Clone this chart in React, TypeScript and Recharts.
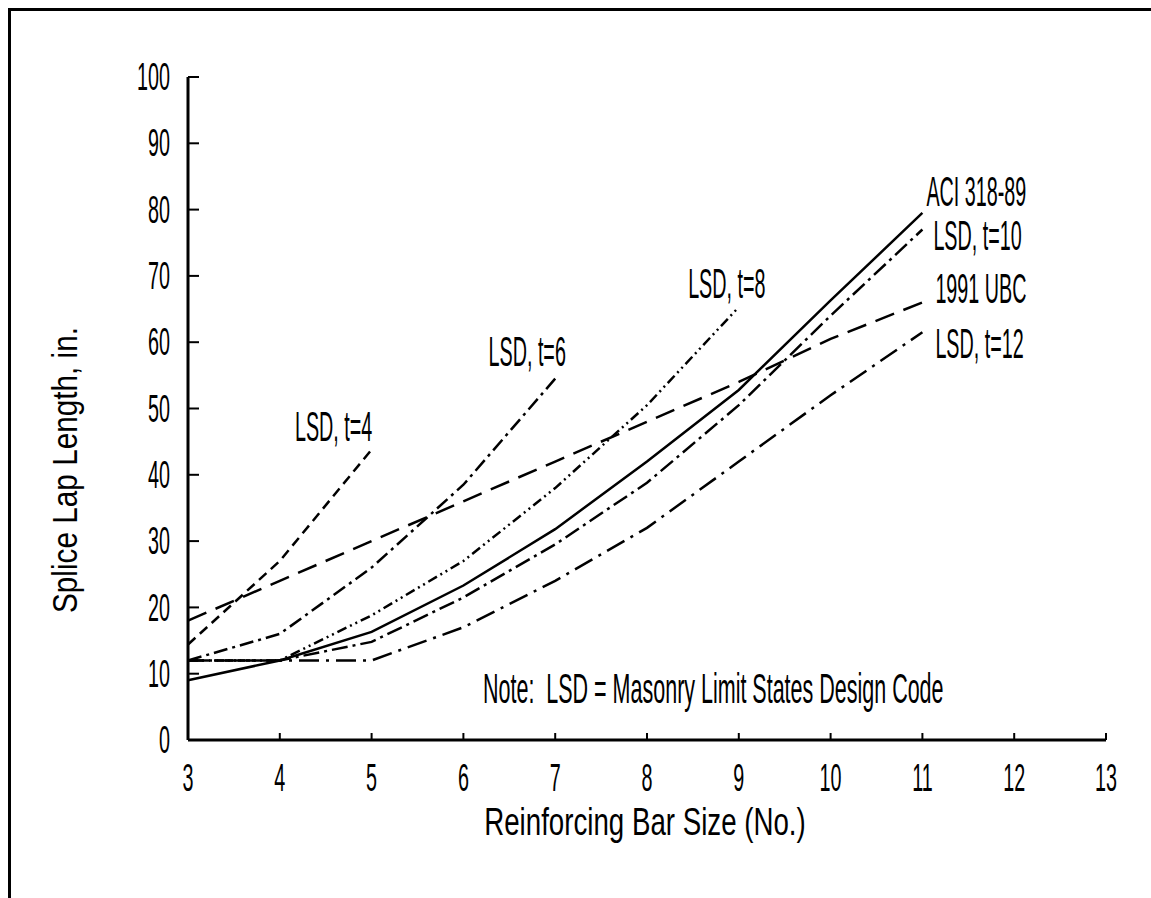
import React from "react";
import { LineChart, Line, XAxis, YAxis } from "recharts";

// bar sizes (No.) and splice lap lengths (in.)
const SIZES = [3, 4, 5, 6, 7, 8, 9, 10, 11];
const ACI_318_89 = [9, 12, 16.3, 23.3, 31.8, 42, 52.8, 66.3, 79.5];
const UBC_1991 = [18, 24, 30, 36, 42, 48, 54, 60.5, 66];
const LSD_T4 = [14.4, 27, 43.8];
const LSD_T6 = [12, 16, 26, 38.5, 54.5];
const LSD_T8 = [12, 12, 18.8, 27, 38, 50.5, 65.3];
const LSD_T10 = [12, 12, 14.8, 21.5, 29.5, 38.8, 50.5, 64, 77];
const LSD_T12 = [12, 12, 12, 17, 24, 32, 42, 52, 61.5];

const X_TICKS = [3, 4, 5, 6, 7, 8, 9, 10, 11, 12, 13];
const Y_TICKS = [0, 10, 20, 30, 40, 50, 60, 70, 80, 90, 100];

const data = SIZES.map((s, i) => ({
  size: s,
  aci: ACI_318_89[i],
  ubc: UBC_1991[i],
  t4: LSD_T4[i] ?? null,
  t6: LSD_T6[i] ?? null,
  t8: LSD_T8[i] ?? null,
  t10: LSD_T10[i] ?? null,
  t12: LSD_T12[i] ?? null,
}));

const FONT = "'Liberation Sans', Arial, sans-serif";

// condensed text: the scanned figure uses a narrow Helvetica
function CText({ x, y, text, size, sx, anchor = "middle", rotate = 0 }: any) {
  return (
    <g transform={`translate(${x},${y}) rotate(${rotate})`}>
      <text
        transform={`scale(${sx},1)`}
        textAnchor={anchor}
        dominantBaseline="central"
        fontSize={size}
        fontFamily={FONT}
        fill="#000"
        style={{ whiteSpace: "pre" }}
      >
        {text}
      </text>
    </g>
  );
}

const Y_MARGIN = 18;
const X_MARGIN = 38;

function YTick(props: any) {
  const { x, y, payload } = props;
  const ax = x + Y_MARGIN;
  return (
    <g>
      <line x1={ax} x2={ax + 11} y1={y} y2={y} stroke="#000" strokeWidth={2} />
      <CText x={x} y={y} text={String(payload.value)} size={38} sx={0.52} anchor="end" />
    </g>
  );
}

function XTick(props: any) {
  const { x, y, payload } = props;
  const ay = y - X_MARGIN;
  return (
    <g>
      <line x1={x} x2={x} y1={ay} y2={ay - 7} stroke="#000" strokeWidth={2} />
      <CText x={x} y={y} text={String(payload.value)} size={38} sx={0.52} />
    </g>
  );
}

// label drawn beside the last point of a series
const endLabel = (text: string, dx: number, dy: number, anchor: string, n: number) =>
  (p: any) =>
    p.index === n - 1 ? (
      <CText key={text} x={p.x + dx} y={p.y + dy} text={text} size={42} sx={0.47} anchor={anchor} />
    ) : null;

export default function App() {
  return (
    <div style={{ position: "absolute", left: 0, top: 0, width: 1151, height: 898, background: "#fff" }}>
      <div
        style={{
          position: "absolute",
          left: 8,
          top: 8,
          width: 1143,
          height: 890,
          borderTop: "3px solid #000",
          borderLeft: "3px solid #000",
        }}
      />
      <div style={{ position: "absolute", left: 0, top: 0 }}>
        <LineChart width={1151} height={898} data={data} margin={{ top: 77, right: 45, left: 128, bottom: 98 }}>
          <XAxis
            dataKey="size"
            type="number"
            domain={[3, 13]}
            ticks={X_TICKS}
            interval={0}
            height={60}
            tickSize={0}
            tickMargin={X_MARGIN}
            tickLine={false}
            axisLine={{ stroke: "#000", strokeWidth: 3 }}
            tick={(p: any) => <XTick {...p} />}
          />
          <XAxis
            xAxisId="top"
            orientation="top"
            type="number"
            domain={[3, 13]}
            height={0}
            tick={false}
            tickLine={false}
            axisLine={{ stroke: "#000", strokeWidth: 2.5 }}
          />
          <YAxis
            type="number"
            domain={[0, 100]}
            ticks={Y_TICKS}
            interval={0}
            width={60}
            tickSize={0}
            tickMargin={Y_MARGIN}
            tickLine={false}
            axisLine={{ stroke: "#000", strokeWidth: 3 }}
            tick={(p: any) => <YTick {...p} />}
          />
          <YAxis
            yAxisId="right"
            orientation="right"
            type="number"
            domain={[0, 100]}
            width={0}
            tick={false}
            tickLine={false}
            axisLine={{ stroke: "#000", strokeWidth: 2.5 }}
          />
          <Line dataKey="t4" stroke="#000" strokeWidth={2.5} strokeDasharray="10 6" dot={false}
            isAnimationActive={false} label={endLabel("LSD, t=4", -38, -23, "middle", LSD_T4.length)} />
          <Line dataKey="t6" stroke="#000" strokeWidth={2.5} strokeDasharray="14 5 3 5" dot={false}
            isAnimationActive={false} label={endLabel("LSD, t=6", -28, -27, "middle", LSD_T6.length)} />
          <Line dataKey="t8" stroke="#000" strokeWidth={2.5} strokeDasharray="10 4 2 4 2 4" dot={false}
            isAnimationActive={false} label={endLabel("LSD, t=8", -12, -24, "middle", LSD_T8.length)} />
          <Line dataKey="ubc" stroke="#000" strokeWidth={2.5} strokeDasharray="20 10" dot={false}
            isAnimationActive={false} label={endLabel("1991 UBC", 13, -14, "start", UBC_1991.length)} />
          <Line dataKey="t12" stroke="#000" strokeWidth={2.5} strokeDasharray="20 7 3 7" dot={false}
            isAnimationActive={false} label={endLabel("LSD, t=12", 13, 11, "start", LSD_T12.length)} />
          <Line dataKey="t10" stroke="#000" strokeWidth={2.5} strokeDasharray="16 5 3 5" dot={false}
            isAnimationActive={false} label={endLabel("LSD, t=10", 11, 6, "start", LSD_T10.length)} />
          <Line dataKey="aci" stroke="#000" strokeWidth={2.5} dot={false}
            isAnimationActive={false} label={endLabel("ACI 318-89", 4, -22, "start", ACI_318_89.length)} />
        </LineChart>
      </div>
      <svg width={1151} height={898} style={{ position: "absolute", left: 0, top: 0, pointerEvents: "none" }}>
        <CText x={483} y={688} text="Note:  LSD = Masonry Limit States Design Code" size={43} sx={0.5} anchor="start" />
        <CText x={645} y={821} text="Reinforcing Bar Size (No.)" size={39} sx={0.71} />
        <CText x={65} y={470} text="Splice Lap Length, in." size={35} sx={0.85} rotate={-90} />
      </svg>
    </div>
  );
}
